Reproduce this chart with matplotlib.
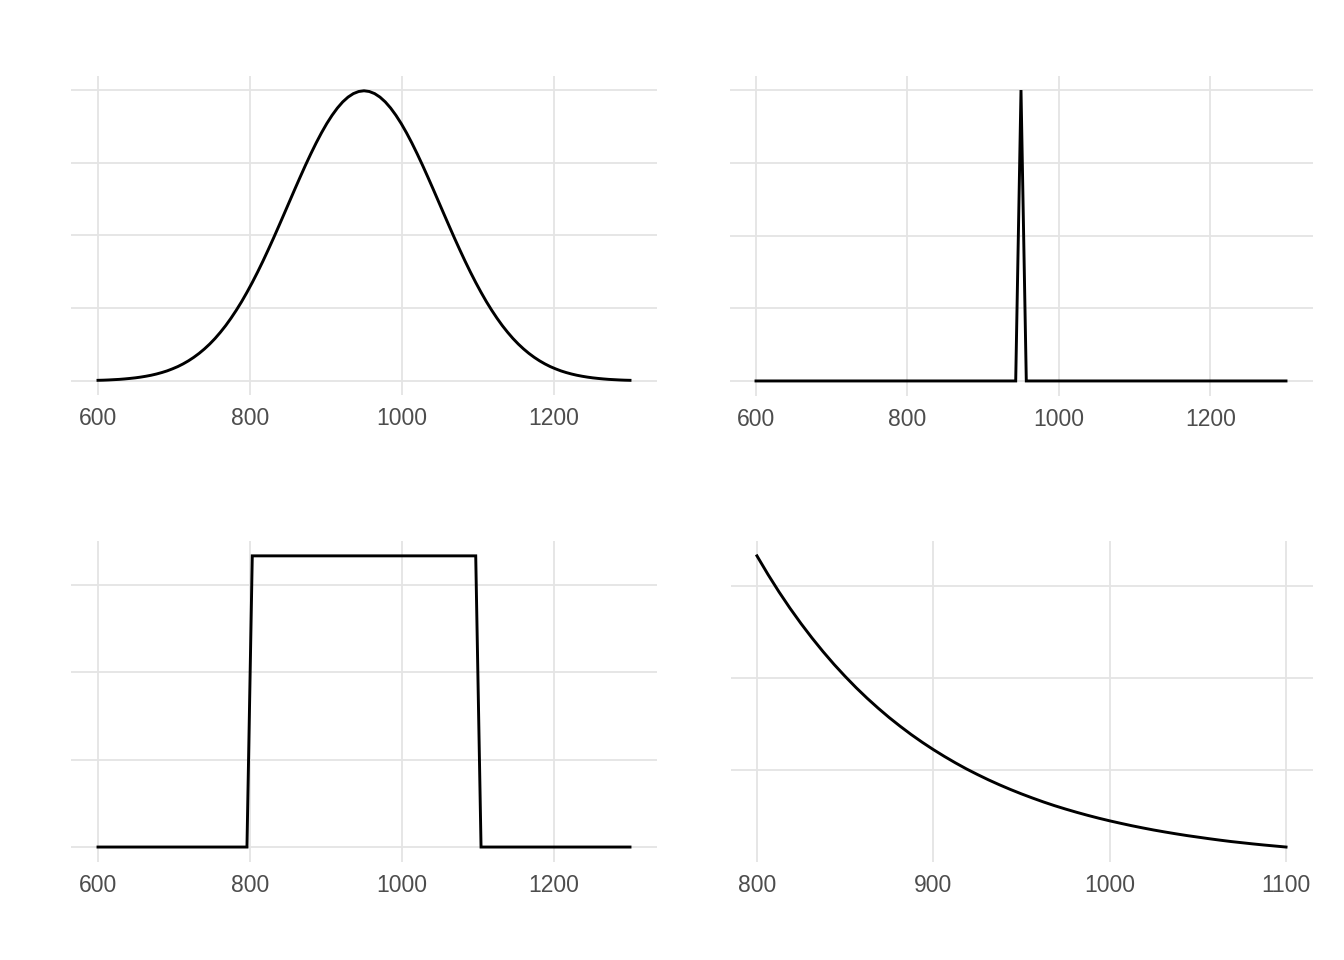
import matplotlib
matplotlib.use("Agg")
import matplotlib.pyplot as plt

# ---- data (densities in units of 0.001) ----
normal_x = [600 + 7 * i for i in range(101)]
normal_half = [3.989, 3.979, 3.950, 3.902, 3.836, 3.752, 3.652, 3.538, 3.410,
               3.271, 3.122, 2.966, 2.803, 2.637, 2.468, 2.299, 2.131, 1.965,
               1.804, 1.647, 1.497, 1.354, 1.219, 1.091, 0.973, 0.863, 0.761,
               0.669, 0.584, 0.508, 0.440, 0.379, 0.325, 0.277, 0.235, 0.198,
               0.167, 0.139, 0.116, 0.096, 0.079, 0.065, 0.053, 0.043, 0.035,
               0.028, 0.022, 0.018, 0.014, 0.011, 0.009]
normal_y = normal_half[::-1] + normal_half[1:]

point_x = [600, 943, 950, 957, 1300]
point_y = [0, 0, 1, 0, 0]

unif_x = [600, 796, 803, 1097, 1104, 1300]
unif_y = [0, 0, 3.333, 3.333, 0, 0]

exp_x = [800 + 6.25 * i for i in range(49)]
exp_y = [3.333, 3.131, 2.941, 2.763, 2.596, 2.439, 2.291, 2.152, 2.022,
         1.899, 1.784, 1.676, 1.574, 1.479, 1.389, 1.305, 1.226, 1.152,
         1.082, 1.016, 0.955, 0.897, 0.843, 0.792, 0.744, 0.699, 0.656,
         0.616, 0.579, 0.544, 0.511, 0.480, 0.451, 0.424, 0.398, 0.374,
         0.351, 0.330, 0.310, 0.291, 0.274, 0.257, 0.241, 0.226, 0.213,
         0.200, 0.188, 0.177, 0.166]

xticks_wide = [600, 800, 1000, 1200]
xticks_exp = [800, 900, 1000, 1100]
yticks_dens = [0, 1, 2, 3, 4]
yticks_point = [0, 0.25, 0.5, 0.75, 1.0]

W, H = 1344, 960
fig = plt.figure(figsize=(W / 100, H / 100), dpi=100)
fig.patch.set_facecolor("white")

GRID = "#E4E4E4"
TEXT = "#4D4D4D"


def add_panel(box, x, y, xticks, yticks):
    x0, x1, y0, y1 = box
    ax = fig.add_axes([x0 / W, 1 - y1 / H, (x1 - x0) / W, (y1 - y0) / H])
    ax.plot(x, y, color="black", lw=2.1, solid_joinstyle="miter", zorder=3)
    ax.set_xticks(xticks)
    ax.set_xticklabels([str(t) for t in xticks])
    ax.set_yticks(yticks)
    xr = max(x) - min(x)
    yr = max(y) - min(y)
    ax.set_xlim(min(x) - 0.05 * xr, max(x) + 0.05 * xr)
    ax.set_ylim(min(y) - 0.05 * yr, max(y) + 0.05 * yr)
    ax.tick_params(axis="both", length=0)
    ax.tick_params(axis="y", labelleft=False)
    ax.tick_params(axis="x", pad=9, labelsize=16.5, labelcolor=TEXT)
    for lab in ax.get_xticklabels():
        lab.set_fontfamily(["Liberation Sans", "DejaVu Sans"])
    ax.grid(True, color=GRID, lw=1.3)
    ax.set_axisbelow(True)
    for s in ax.spines.values():
        s.set_visible(False)
    ax.set_facecolor("white")
    return ax


add_panel((71.4, 656.6, 76.3, 394.8), normal_x, normal_y, xticks_wide, yticks_dens)
add_panel((729.5, 1312.5, 75.5, 395.5), point_x, point_y, xticks_wide, yticks_point)
add_panel((71.4, 656.6, 541.3, 861.6), unif_x, unif_y, xticks_wide, yticks_dens)
add_panel((730.5, 1312.5, 541.3, 861.6), exp_x, exp_y, xticks_exp, yticks_dens)

fig.savefig("out.png", dpi=100, facecolor="white")
